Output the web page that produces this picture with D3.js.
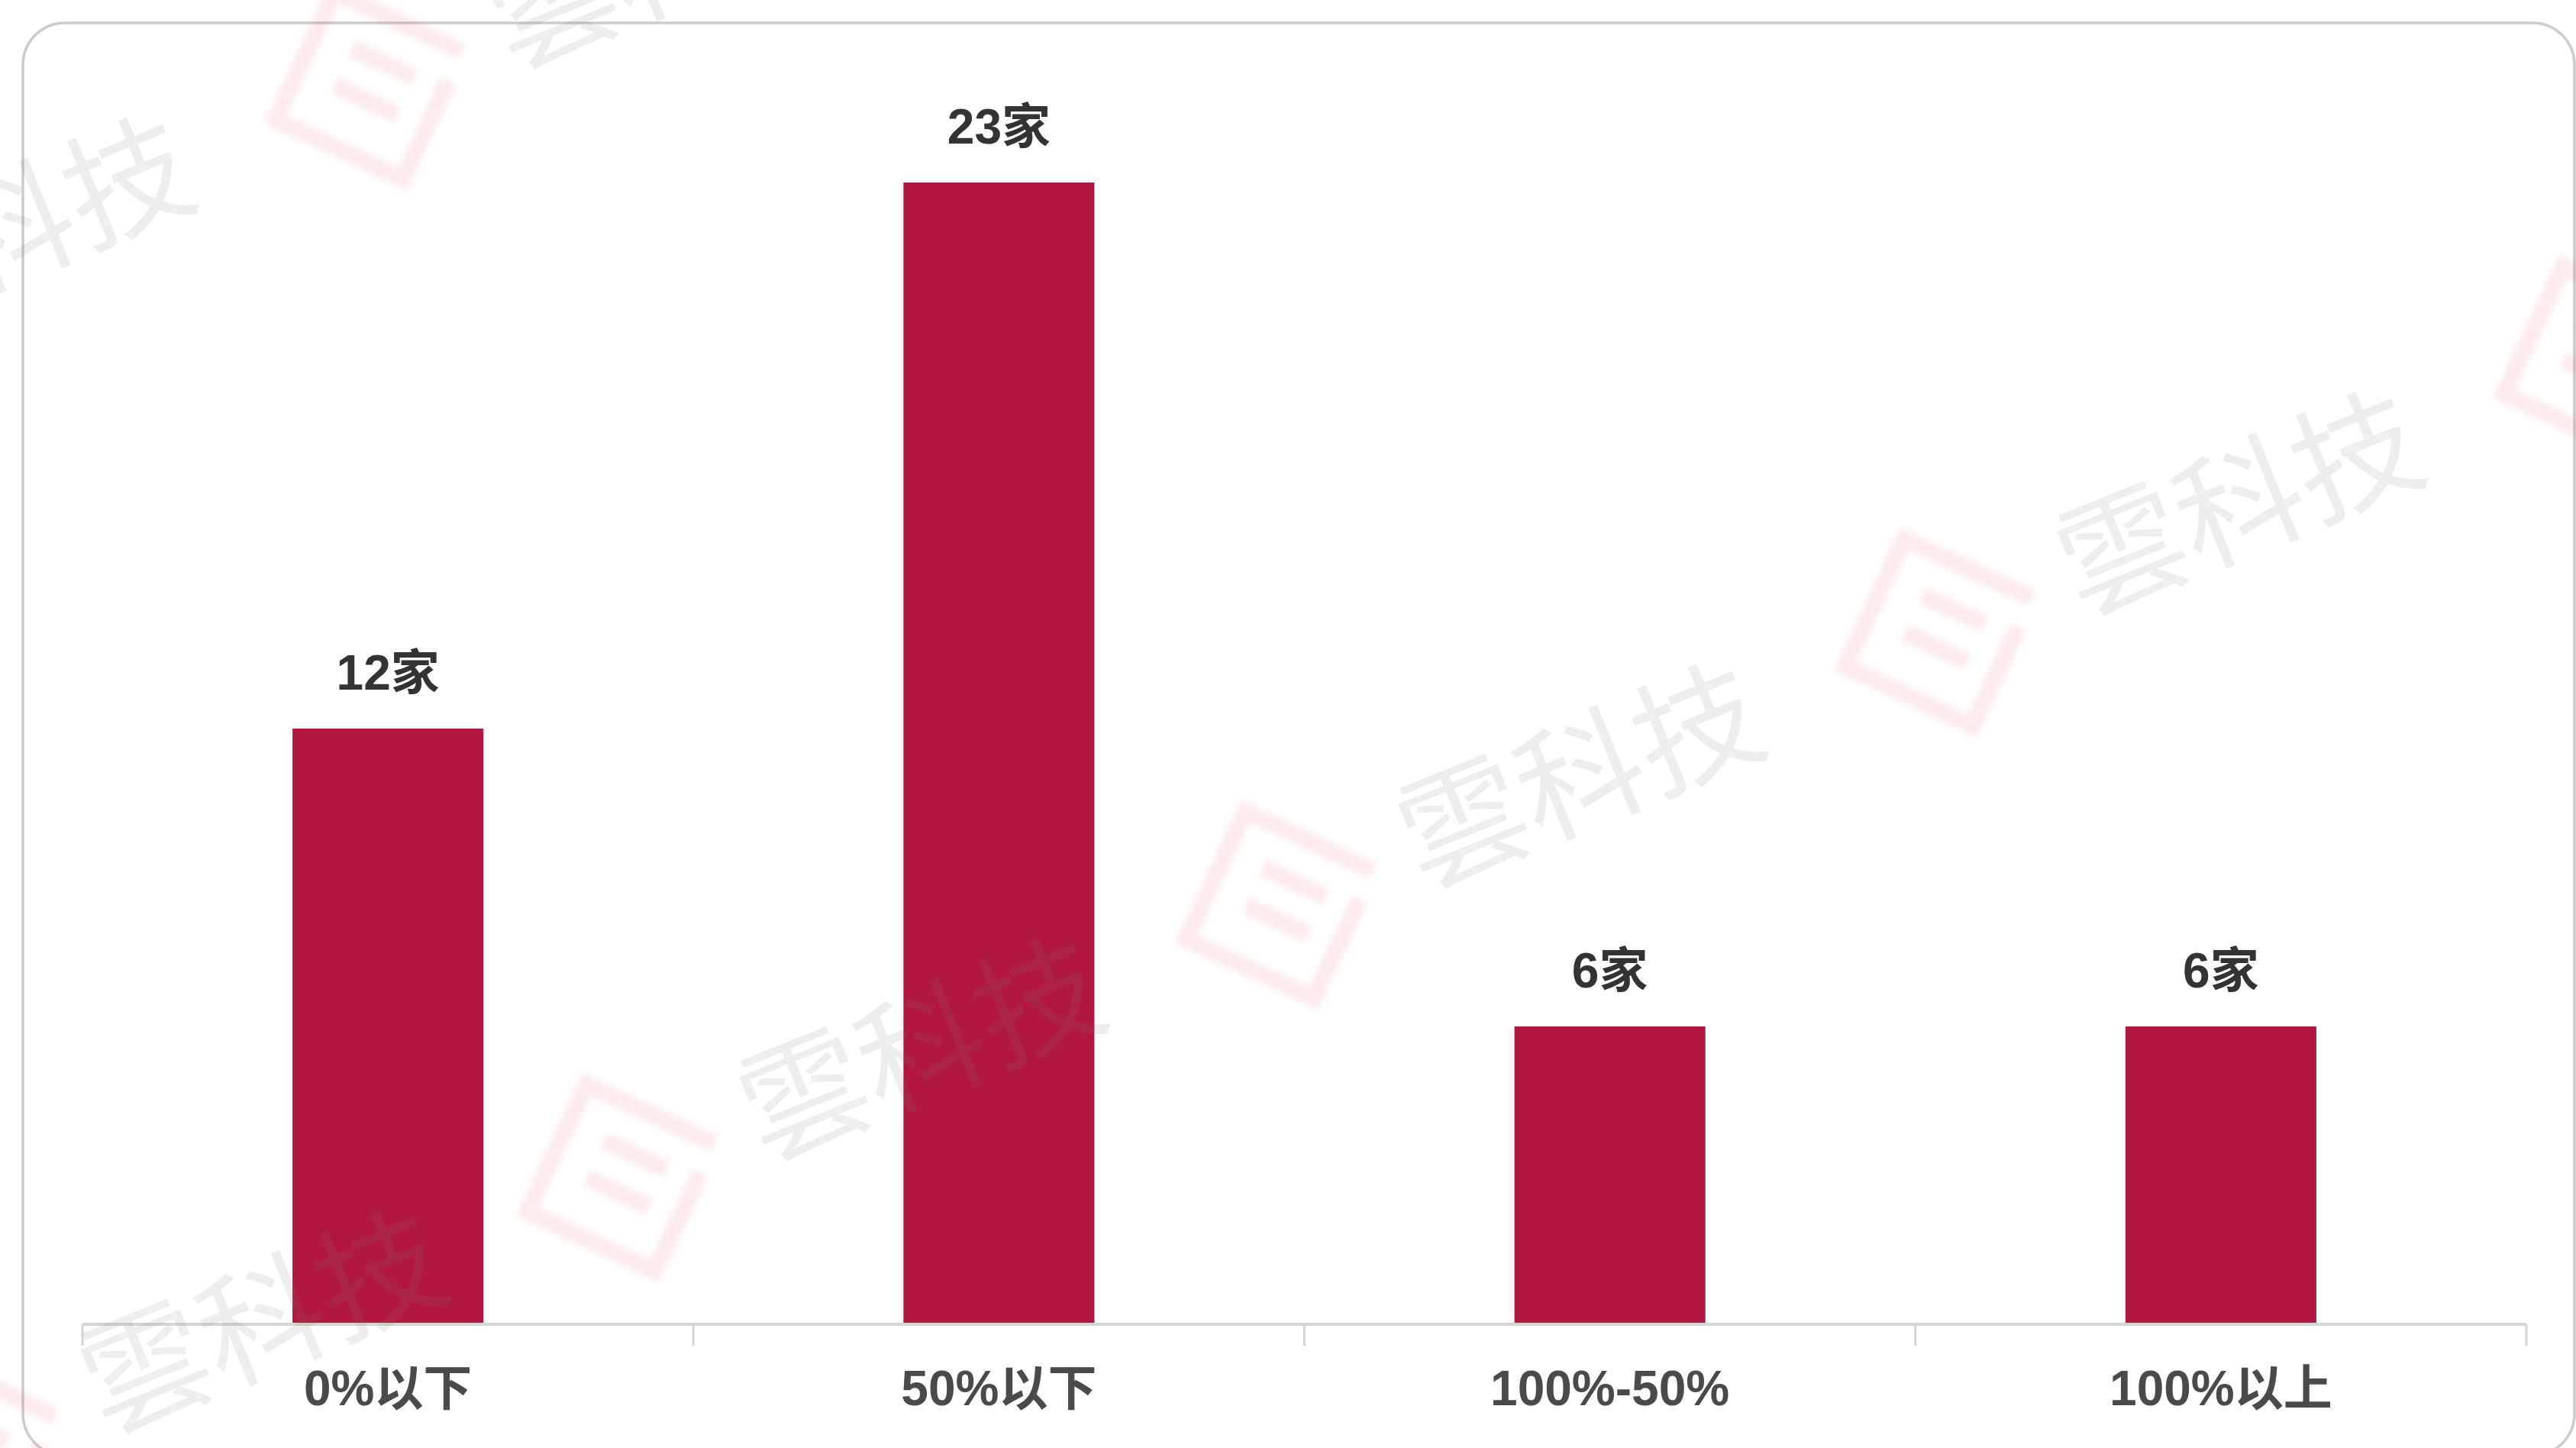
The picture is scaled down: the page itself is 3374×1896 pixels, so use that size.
<!DOCTYPE html>
<html>
<head>
<meta charset="utf-8">
<script src="https://cdn.jsdelivr.net/npm/d3@7"></script>
<style>
  html, body { margin: 0; padding: 0; background: #ffffff; overflow: hidden; }
  svg { display: block; }
</style>
</head>
<body>
<svg id="chart" width="3374" height="1896"></svg>
<script>
// Number of companies in each growth band
const categories = ["0%以下", "50%以下", "100%-50%", "100%以上"];
const counts = [12, 23, 6, 6];
const unitLabel = "家";
const yDomain = [0, 25];

// Watermark text and tiling
const markText = "雲科技";
const markOrigin = [1676, 1185];
const markStepA = [863, -357];
const markStepB = [330, 1430];

const W = 3374, H = 1896;
const margin = { top: 109, right: 65, bottom: 162, left: 108 };
const innerW = W - margin.left - margin.right;
const innerH = H - margin.top - margin.bottom;

const svg = d3.select("#chart");

const defs = svg.append("defs");
defs.append("filter").attr("id", "soft")
  .attr("x", "-20%").attr("y", "-20%").attr("width", "140%").attr("height", "140%")
  .append("feGaussianBlur").attr("stdDeviation", 3.5);

// Rounded card frame
svg.append("rect")
  .attr("x", 30).attr("y", 30)
  .attr("width", 3342).attr("height", 1876)
  .attr("rx", 55).attr("ry", 55)
  .attr("fill", "#ffffff")
  .attr("stroke", "#cccccc")
  .attr("stroke-width", 3.5);

const g = svg.append("g").attr("transform", `translate(${margin.left},${margin.top})`);

const x = d3.scaleBand()
  .domain(categories)
  .range([0, innerW])
  .paddingInner(0.6875)
  .paddingOuter(0.34375);

const y = d3.scaleLinear().domain(yDomain).range([innerH, 0]);

// Bars
g.selectAll("rect.bar")
  .data(counts)
  .join("rect")
  .attr("class", "bar")
  .attr("x", (d, i) => x(categories[i]))
  .attr("y", d => y(d))
  .attr("width", x.bandwidth())
  .attr("height", d => y(0) - y(d))
  .attr("fill", "#b2173f");

// Value labels above bars
g.selectAll("text.value")
  .data(counts)
  .join("text")
  .attr("class", "value")
  .attr("x", (d, i) => x(categories[i]) + x.bandwidth() / 2)
  .attr("y", d => y(d) - 51)
  .attr("text-anchor", "middle")
  .attr("font-family", "'Liberation Sans', Arial, 'Noto Sans CJK SC', sans-serif")
  .attr("font-weight", "bold")
  .attr("font-size", 64)
  .attr("fill", "#333333")
  .text(d => d + unitLabel);

// Category axis: baseline with ticks between bands
const axisG = g.append("g").attr("transform", `translate(0,${innerH})`);
axisG.append("line")
  .attr("x1", 0).attr("x2", innerW)
  .attr("y1", 0).attr("y2", 0)
  .attr("stroke", "#d5d5d5")
  .attr("stroke-width", 4);

const step = x.step();
const boundaries = categories.map(c => x(c) - step * x.paddingOuter()).concat([innerW]);
axisG.selectAll("line.tick")
  .data(boundaries)
  .join("line")
  .attr("class", "tick")
  .attr("x1", d => d).attr("x2", d => d)
  .attr("y1", 0).attr("y2", 28)
  .attr("stroke", "#d5d5d5")
  .attr("stroke-width", 3);

axisG.selectAll("text.cat")
  .data(categories)
  .join("text")
  .attr("class", "cat")
  .attr("x", d => x(d) + x.bandwidth() / 2)
  .attr("y", 106)
  .attr("text-anchor", "middle")
  .attr("font-family", "'Liberation Sans', Arial, 'Noto Sans CJK SC', sans-serif")
  .attr("font-weight", "bold")
  .attr("font-size", 64)
  .attr("fill", "#4a4a4a")
  .text(d => d);

// Tiled watermark: tilted logo plus brand text
const marks = [];
for (let i = -4; i <= 4; i++) {
  for (let j = -2; j <= 2; j++) {
    const cx = markOrigin[0] + i * markStepA[0] + j * markStepB[0];
    const cy = markOrigin[1] + i * markStepA[1] + j * markStepB[1];
    if (cx > -900 && cx < W + 300 && cy > -300 && cy < H + 400) marks.push([cx, cy]);
  }
}

const wm = svg.append("g");
const logo = wm.selectAll("g.logo")
  .data(marks)
  .join("g")
  .attr("class", "logo")
  .attr("filter", "url(#soft)")
  .attr("transform", d => `translate(${d[0]},${d[1]}) rotate(25)`);
logo.append("path")
  .attr("d", "M92,-50 V92 H-92 V-92 H92 M-40,-35 H50 M-40,19 H50")
  .attr("fill", "none")
  .attr("stroke", "rgba(232,60,60,0.10)")
  .attr("stroke-width", 22);

wm.selectAll("text.mark")
  .data(marks)
  .join("text")
  .attr("class", "mark")
  .attr("transform", d => `translate(${d[0]},${d[1]}) rotate(-22)`)
  .attr("x", 181)
  .attr("y", 51)
  .attr("font-family", "'Noto Sans CJK TC', 'Noto Sans CJK SC', sans-serif")
  .attr("font-size", 165)
  .attr("fill", "rgba(120,120,120,0.13)")
  .text(markText);
</script>
</body>
</html>
